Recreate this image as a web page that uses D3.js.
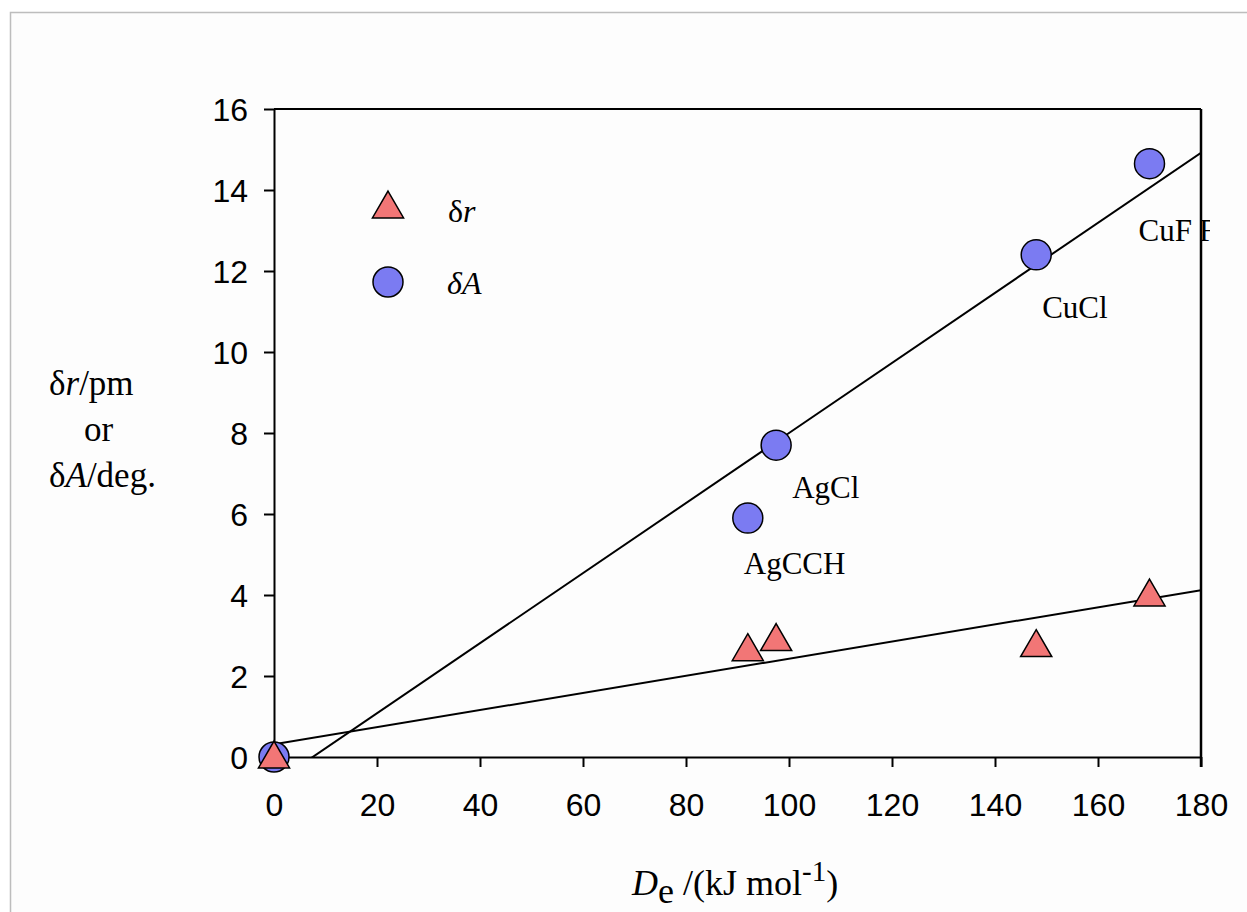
<!DOCTYPE html>
<html>
<head>
<meta charset="utf-8">
<script src="https://cdn.jsdelivr.net/npm/d3@7"></script>
<style>
  body { margin: 0; background: #fff; }
  svg { display: block; }
  .tick text { font-family: "Liberation Sans", Arial, sans-serif; font-size: 32px; fill: #000; }
  .serif { font-family: "Liberation Serif", "Times New Roman", serif; fill: #000; }
</style>
</head>
<body>
<svg></svg>
<script>
const width = 1247,
      height = 912;

// data
const compounds = ['origin', 'AgCCH', 'AgCl', 'CuCl', 'CuF'];
const bindingEnergy = [0, 92, 97.5, 148, 170];
const deltaR = [0, 2.65, 2.9, 2.75, 4.0];
const deltaA = [0, 5.9, 7.7, 12.4, 14.65];
const xTicks = [0, 20, 40, 60, 80, 100, 120, 140, 160, 180];
const yTicks = [0, 2, 4, 6, 8, 10, 12, 14, 16];

const margin = { left: 274, right: 46, top: 109, bottom: 155 };

const x = d3.scaleLinear()
            .domain([0, 180])
            .range([margin.left, width - margin.right]);

const y = d3.scaleLinear()
            .domain([0, 16])
            .range([height - margin.bottom, margin.top]);

const svg = d3.select('svg')
    .attr('width', width)
    .attr('height', height);

// outer light frame
svg.append('rect')
    .attr('x', 10.5)
    .attr('y', 12.5)
    .attr('width', width + 20)
    .attr('height', height + 20)
    .attr('fill', '#fdfdfd')
    .attr('stroke', '#bdbdbd')
    .attr('stroke-width', 1.5);

const defs = svg.append('defs');

defs.append('clipPath')
    .attr('id', 'plot-clip')
  .append('rect')
    .attr('x', x(0))
    .attr('y', y(16))
    .attr('width', x(180) - x(0))
    .attr('height', y(0) - y(16));

defs.append('clipPath')
    .attr('id', 'f-clip')
  .append('rect')
    .attr('x', x(180))
    .attr('y', 0)
    .attr('width', 9)
    .attr('height', height);

// axes
const xAxis = svg.append('g')
    .attr('transform', `translate(0, ${y(0)})`)
    .call(d3.axisBottom(x).tickValues(xTicks).tickSize(10).tickPadding(26).tickSizeOuter(0));

const yAxis = svg.append('g')
    .attr('transform', `translate(${x(0)}, 0)`)
    .call(d3.axisLeft(y).tickValues(yTicks).tickSize(10).tickPadding(16).tickSizeOuter(0));

[xAxis, yAxis].forEach((g) => {
  g.select('.domain').attr('stroke', '#000').attr('stroke-width', 2);
  g.selectAll('.tick line').attr('stroke', '#000').attr('stroke-width', 2);
});
xAxis.selectAll('.tick text').attr('dy', '0.71em');
yAxis.selectAll('.tick text').attr('dy', '0.36em');

// top frame line
svg.append('line')
    .attr('x1', x(0)).attr('x2', x(180))
    .attr('y1', y(16)).attr('y2', y(16))
    .attr('stroke', '#000').attr('stroke-width', 2);

// least-squares fit lines
function fit(xs, ys) {
  const mx = d3.mean(xs), my = d3.mean(ys);
  let sxy = 0, sxx = 0;
  xs.forEach((v, i) => {
    sxy += (v - mx) * (ys[i] - my);
    sxx += (v - mx) * (v - mx);
  });
  const slope = sxy / sxx;
  return { slope, intercept: my - slope * mx };
}

const fits = [fit(bindingEnergy, deltaA), fit(bindingEnergy, deltaR)];

svg.append('g')
    .attr('clip-path', 'url(#plot-clip)')
  .selectAll('line')
  .data(fits)
  .enter()
  .append('line')
    .attr('x1', x(0))
    .attr('y1', (d) => y(d.intercept))
    .attr('x2', x(180))
    .attr('y2', (d) => y(d.intercept + d.slope * 180))
    .attr('stroke', '#000')
    .attr('stroke-width', 2);

const circleColor = '#7b7bf2',
      triangleColor = '#f27676';

const triangle = d3.symbol().type(d3.symbolTriangle).size(420);

const points = bindingEnergy.map((v, i) => ({ x: v, r: deltaR[i], a: deltaA[i], name: compounds[i] }));

svg.append('g')
  .selectAll('circle')
  .data(points)
  .enter()
  .append('circle')
    .attr('cx', (d) => x(d.x))
    .attr('cy', (d) => y(d.a))
    .attr('r', 15)
    .attr('fill', circleColor)
    .attr('stroke', '#000')
    .attr('stroke-width', 1.5);

svg.append('g')
  .selectAll('path')
  .data(points)
  .enter()
  .append('path')
    .attr('d', triangle)
    .attr('transform', (d) => `translate(${x(d.x)}, ${y(d.r) + 2})`)
    .attr('fill', triangleColor)
    .attr('stroke', '#000')
    .attr('stroke-width', 1.5);

// compound labels
const labelOffsets = {
  AgCCH: [-4, 56],
  AgCl: [16, 53],
  CuCl: [6, 63],
  CuF: [-11, 77]
};

svg.append('g')
  .selectAll('text')
  .data(points.filter((d) => labelOffsets[d.name]))
  .enter()
  .append('text')
    .classed('serif', true)
    .attr('x', (d) => x(d.x) + labelOffsets[d.name][0])
    .attr('y', (d) => y(d.a) + labelOffsets[d.name][1])
    .attr('font-size', 31)
    .text((d) => d.name);

// stray F half hidden behind the right axis
svg.append('text')
    .classed('serif', true)
    .attr('clip-path', 'url(#f-clip)')
    .attr('x', x(180) - 2)
    .attr('y', y(deltaA[4]) + 77)
    .attr('font-size', 31)
    .text('F');
svg.append('line')
    .attr('x1', x(180)).attr('x2', x(180))
    .attr('y1', y(16)).attr('y2', y(0) + 10)
    .attr('stroke', '#000').attr('stroke-width', 2.5);

// legend
const legend = svg.append('g').attr('transform', 'translate(388, 0)');

legend.append('path')
    .attr('d', triangle)
    .attr('transform', 'translate(0, 209)')
    .attr('fill', triangleColor)
    .attr('stroke', '#000')
    .attr('stroke-width', 1.5);

legend.append('circle')
    .attr('cx', 0)
    .attr('cy', 282)
    .attr('r', 15)
    .attr('fill', circleColor)
    .attr('stroke', '#000')
    .attr('stroke-width', 1.5);

const lr = legend.append('text').classed('serif', true)
    .attr('x', 60).attr('y', 222).attr('font-size', 32);
lr.append('tspan').text('δ');
lr.append('tspan').attr('font-style', 'italic').text('r');

const la = legend.append('text').classed('serif', true)
    .attr('x', 59).attr('y', 294).attr('font-size', 32)
    .attr('font-style', 'italic');
la.append('tspan').text('δA');

// y title
const yTitle = svg.append('g').attr('font-size', 35);

const t1 = yTitle.append('text').classed('serif', true).attr('x', 49).attr('y', 395);
t1.append('tspan').text('δ');
t1.append('tspan').attr('font-style', 'italic').text('r');
t1.append('tspan').text('/pm');

yTitle.append('text').classed('serif', true)
    .attr('x', 84).attr('y', 441)
    .text('or');

const t3 = yTitle.append('text').classed('serif', true).attr('x', 49).attr('y', 487);
t3.append('tspan').text('δ');
t3.append('tspan').attr('font-style', 'italic').text('A');
t3.append('tspan').text('/deg.');

// x title
const xt = svg.append('text').classed('serif', true)
    .attr('x', 632).attr('y', 895).attr('font-size', 36);
xt.append('tspan').attr('font-style', 'italic').text('D');
xt.append('tspan').attr('dy', 8).text('e');
xt.append('tspan').attr('dy', -8).text(' /(kJ mol');
xt.append('tspan').attr('dy', -14).attr('font-size', 29).text('-1');
xt.append('tspan').attr('dy', 14).text(')');
</script>
</body>
</html>
